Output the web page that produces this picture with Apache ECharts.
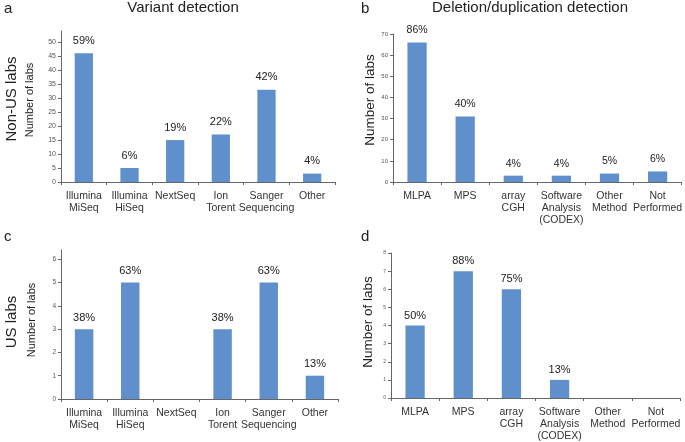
<!DOCTYPE html>
<html><head><meta charset="utf-8">
<script src="https://cdn.jsdelivr.net/npm/echarts@6/dist/echarts.min.js"></script>
<style>html,body{margin:0;padding:0;background:#fff}#c{width:685px;height:442px}</style>
</head><body><div id="c"></div>
<script>
var variantCategories = ['Illumina\nMiSeq','Illumina\nHiSeq','NextSeq','Ion\nTorent','Sanger\nSequencing','Other'];
var deldupCategories = ['MLPA','MPS','array\nCGH','Software\nAnalysis\n(CODEX)','Other\nMethod','Not\nPerformed'];
var nonUSVariant = [46, 5, 15, 17, 33, 3];
var nonUSVariantPct = ['59%','6%','19%','22%','42%','4%'];
var nonUSDeldup = [66, 31, 3, 3, 4, 5];
var nonUSDeldupPct = ['86%','40%','4%','4%','5%','6%'];
var usVariant = [3, 5, 0, 3, 5, 1];
var usVariantPct = ['38%','63%','','38%','63%','13%'];
var usDeldup = [4, 7, 6, 1, 0, 0];
var usDeldupPct = ['50%','88%','75%','13%','',''];

var FONT = 'Liberation Sans, Arial, sans-serif';
var BAR = '#6090cb';
var AX = '#666';

function xAxis(idx, cats){
  return {gridIndex: idx, type:'category', data: cats,
    axisLine:{lineStyle:{color:AX, width:1}},
    axisTick:{show:true, length:3, lineStyle:{color:AX}},
    axisLabel:{color:'#333', fontFamily:FONT, fontSize:10.5, lineHeight:12, margin:8, interval:0}};
}
function yAxis(idx, max, interval, fs, showMax){
  return {gridIndex: idx, type:'value', min:0, max:max, interval:interval,
    splitLine:{show:false},
    axisLine:{show:true, lineStyle:{color:AX, width:1}},
    axisTick:{show:true, length:3, lineStyle:{color:AX}},
    axisLabel:{color:'#555', fontFamily:FONT, fontSize:fs, margin:5, showMaxLabel:showMax}};
}
function bars(idx, vals, pcts, fs, dist){
  return {type:'bar', xAxisIndex:idx, yAxisIndex:idx, data:vals, barWidth:'40%',
    itemStyle:{color:BAR},
    label:{show:true, position:'top', distance:dist, color:'#222', fontFamily:FONT, fontSize:fs,
      formatter:function(p){return pcts[p.dataIndex];}}};
}
function vtext(x, y, txt, fs){
  return {type:'text', x:x, y:y, rotation:Math.PI/2,
    style:{text:txt, font:fs+'px '+FONT, fill:'#222', align:'center', verticalAlign:'middle'}};
}

var chart = echarts.init(document.getElementById('c'), null, {renderer:'canvas'});
chart.setOption({
  animation:false,
  grid:[
    {left:61, top:31, width:274, height:151},
    {left:393, top:34, width:290, height:148},
    {left:61, top:250, width:277, height:149},
    {left:391, top:253, width:289, height:147}
  ],
  xAxis:[xAxis(0,variantCategories), xAxis(1,deldupCategories), xAxis(2,variantCategories), xAxis(3,deldupCategories)],
  yAxis:[
    yAxis(0, 54, 5, 7, false),
    yAxis(1, 70, 10, 6, true),
    yAxis(2, 6.4, 1, 6.5, false),
    yAxis(3, 8, 1, 5, true)
  ],
  series:[
    bars(0,nonUSVariant,nonUSVariantPct, 11, 7),
    bars(1,nonUSDeldup,nonUSDeldupPct, 10.5, 6.5),
    bars(2,usVariant,usVariantPct, 11, 6),
    bars(3,usDeldup,usDeldupPct, 11, 4.5)
  ],
  graphic:[
    {type:'text', left:4, top:1, style:{text:'a', font:'15px '+FONT, fill:'#222'}},
    {type:'text', left:361, top:1, style:{text:'b', font:'15px '+FONT, fill:'#222'}},
    {type:'text', left:4, top:229, style:{text:'c', font:'15px '+FONT, fill:'#222'}},
    {type:'text', left:361, top:229, style:{text:'d', font:'15px '+FONT, fill:'#222'}},
    {type:'text', x:183, y:8, style:{text:'Variant detection', font:'15px '+FONT, fill:'#222', align:'center', verticalAlign:'middle'}},
    {type:'text', x:530, y:8, style:{text:'Deletion/duplication detection', font:'15px '+FONT, fill:'#222', align:'center', verticalAlign:'middle'}},
    vtext(12, 99, 'Non-US labs', 15),
    vtext(12, 322, 'US labs', 15),
    vtext(30, 100, 'Number of labs', 11),
    vtext(370, 100, 'Number of labs', 13.5),
    vtext(32, 320, 'Number of labs', 11),
    vtext(368, 322, 'Number of labs', 13.5)
  ]
});
</script></body></html>
